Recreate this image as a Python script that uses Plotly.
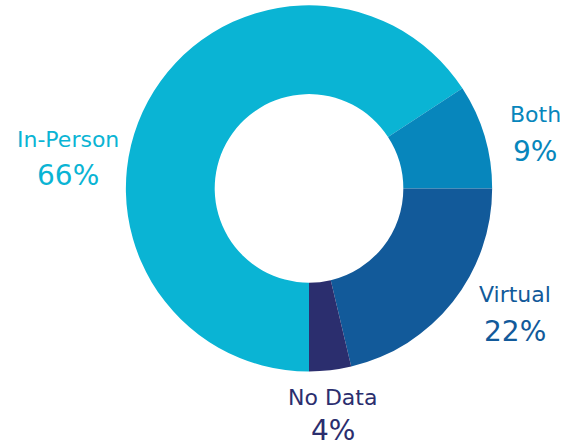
import plotly.graph_objects as go

# slice shares (degrees / 3.6)
categories = ["In-Person", "Both", "Virtual", "No Data"]
shares = [65.8, 9.2, 21.3, 3.7]
pct_labels = ["66%", "9%", "22%", "4%"]
colors = ["#0ab4d4", "#0786bc", "#125a9a", "#2b2e6e"]

# label anchor positions (paper coords): name line, percent line
label_pos = {
    "In-Person": (0.12, 0.689, 0.608),
    "Both": (0.944, 0.743, 0.662),
    "Virtual": (0.909, 0.342, 0.258),
    "No Data": (0.587, 0.11, 0.038),
}

fig = go.Figure(
    go.Pie(
        labels=categories,
        values=shares,
        hole=0.515,
        sort=False,
        direction="clockwise",
        rotation=180,
        marker=dict(colors=colors, line=dict(width=0)),
        textinfo="none",
        hoverinfo="label+percent",
        domain=dict(x=[0.222, 0.868], y=[0.168, 0.989]),
        showlegend=False,
    )
)

for name, pct, col in zip(categories, pct_labels, colors):
    x, y_name, y_pct = label_pos[name]
    fig.add_annotation(
        text=name, x=x, y=y_name, xref="paper", yref="paper",
        showarrow=False, xanchor="center", yanchor="middle",
        font=dict(family="DejaVu Sans", size=22, color=col),
    )
    fig.add_annotation(
        text=pct, x=x, y=y_pct, xref="paper", yref="paper",
        showarrow=False, xanchor="center", yanchor="middle",
        font=dict(family="DejaVu Sans", size=28, color=col),
    )

fig.update_layout(
    width=567,
    height=447,
    margin=dict(l=0, r=0, t=0, b=0),
    paper_bgcolor="white",
    plot_bgcolor="white",
)

fig.write_html(
    "out.html",
    config=dict(displayModeBar=False),
    post_script="document.body.style.margin='0';document.body.style.overflow='hidden';",
)
